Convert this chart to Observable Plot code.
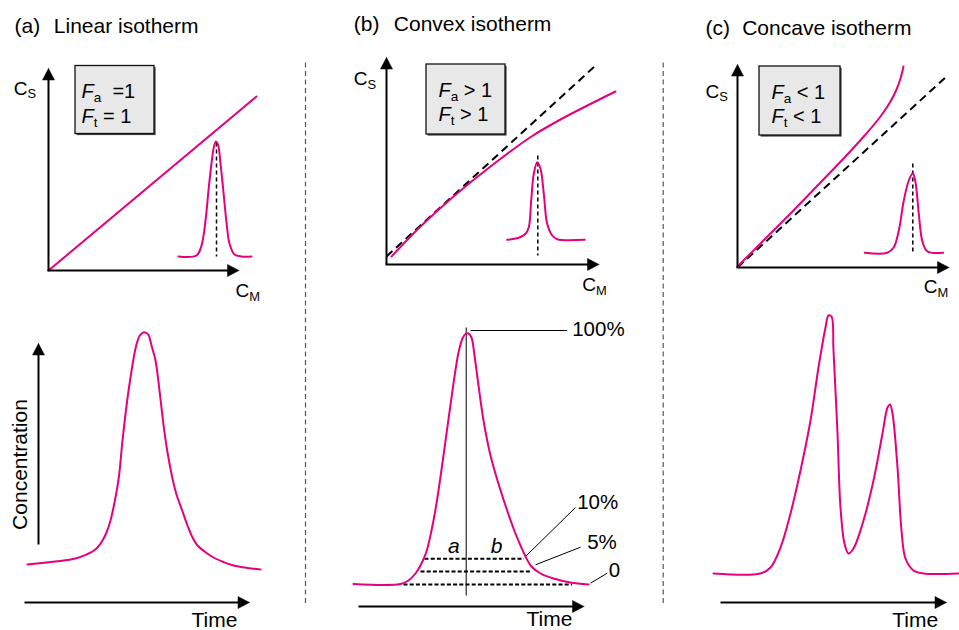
<!DOCTYPE html>
<html><head><meta charset="utf-8">
<script src="https://cdn.jsdelivr.net/npm/d3@7"></script>
<script src="https://cdn.jsdelivr.net/npm/@observablehq/plot@0.6"></script>
<style>
html,body{margin:0;padding:0;background:#fff;}
#chart{width:959px;height:630px;}
</style></head><body><div id="chart"></div>
<script>
// ================= DATA =================
const panelTags  = ["(a)", "(b)", "(c)"];
const panelNames = ["Linear isotherm", "Convex isotherm", "Concave isotherm"];
const faText = ["*F*_{a}  =1", "*F*_{a} > 1", "*F*_{a} < 1"];
const ftText = ["*F*_{t} = 1", "*F*_{t} > 1", "*F*_{t} < 1"];
const csText = "C_{S}";
const cmText = "C_{M}";
const timeText = "Time";
const concText = "Concentration";
const levelText = ["100%", "10%", "5%", "0"];
const widthText = ["*a*", "*b*"];

// isotherm curves  [C_M, C_S] (figure units)
const isoLinear  = [[48, 270], [256, 96]];
const isoConvex  = [[391, 256], [420, 226], [453, 196], [490, 166], [531, 136], [560, 119], [615, 91]];
const isoConcave = [[737, 266], [760, 243], [790, 213], [820, 182], [845, 156], [865, 134], [880, 116],
                    [890, 101], [896, 89], [900, 78], [903, 66]];
const isoDiagB = [[386, 256], [594, 66]];
const isoDiagC = [[737, 267], [946, 76]];

// small inset peaks
const insetA = [[178, 256], [196, 255], [201, 245], [205, 220], [208, 190], [211, 163], [213.5, 146], [215.5, 141],
                [217.5, 144], [220, 163], [223, 192], [226, 222], [229, 243], [234, 254], [241, 256], [251, 256]];
const insetB = [[506.7, 239.3], [518.3, 237.3], [525, 233.3], [528.3, 226.7], [530.7, 200], [533.3, 173.3],
                [536.7, 161.7], [540, 168.3], [543.3, 193.3], [546.7, 223.3], [551.7, 235], [556.7, 238.7], [584.3, 239.3]];
const insetC = [[864.3, 252.3], [886.7, 252.3], [893.3, 246.7], [898.3, 230], [903.3, 200], [908.3, 180],
                [912.3, 172.7], [915, 181.7], [918.3, 213.3], [921.7, 240], [926.7, 250.7], [942.7, 252.3]];

// elution profiles [time, concentration]
const peakA = [[27, 564], [55, 561], [75, 558], [86, 554], [92, 551], [97, 547], [102, 540], [106, 532], [110, 520],
               [114, 502], [118.3, 477], [122, 440], [126.7, 400], [130, 377], [133.3, 356.7], [136, 344], [139.3, 335],
               [143.3, 331.7], [146, 332.5], [148.3, 335], [151, 345], [155, 360], [159, 390], [163.3, 426.7], [167, 452],
               [171.7, 476.7], [176, 494], [181.7, 510], [187, 525], [192, 537], [197, 545], [204, 551], [213, 557],
               [223, 561.5], [233, 565], [247, 567.5], [260, 569]];
const peakB = [[353, 583.5], [400, 583.5], [408, 580], [415, 573], [421, 563], [426, 551], [431, 530], [436, 503], [443, 455],
               [452, 390], [458, 352], [462, 338], [465, 333.5], [468, 333], [471, 337], [474, 355], [478, 385], [483, 420],
               [490, 455], [497, 480], [505, 505], [513, 528], [520, 545], [525, 556], [531, 566], [540, 573], [553, 578],
               [570, 582], [588, 584]];
const peakC = [[713, 573], [760, 573], [770, 567], [780, 547], [790, 513], [800, 470], [810, 420], [818, 367], [825, 327],
               [828, 315], [831, 316], [833, 350], [837, 433], [840, 507], [844, 543], [848, 553], [853, 548], [863, 520],
               [873, 480], [882, 433], [887, 407], [889.5, 404], [892, 413], [897, 467], [901, 530], [905, 558], [913, 570],
               [923, 573], [958, 573]];

// peak-asymmetry levels in (b): 10 %, 5 %, 0
const levelY  = [558.3, 571, 584];
const levelX1 = [424, 420, 403];
const levelX2 = [523.5, 531.5, 571.5];

// ================= LAYOUT =================
const FONT = "'Liberation Sans', Arial, Helvetica, sans-serif";
const PINK = "#e5007e";
const layout = {
  tagPos:  [[14, 32], [353.3, 30.5], [705, 34]],
  namePos: [[53.3, 32], [393.3, 30.5], [741.7, 34]],
  boxes:   [[75, 65.5, 154, 133.5], [426, 64, 505, 134], [759, 66, 840, 135]],
  boxTextX: [81, 438, 771],
  axes:    [{ox: 48, oy: 270, xt: 238.5, yt: 68}, {ox: 386, oy: 264, xt: 598.5, yt: 57}, {ox: 737, oy: 267, xt: 948.5, yt: 64}],
  csPos:   [[13.3, 94], [353.3, 84.5], [705, 97]],
  cmPos:   [[235, 296.5], [581.7, 290.5], [923.3, 292.5]],
  timeArrows: [[24, 602, 249, 602], [358, 606, 583.5, 606], [720, 602, 946, 602]],
  concArrow: [38, 544, 38, 343],
  timePos: [[191, 626], [526, 625.5], [891.7, 626]],
  concPos: [26, 464],
  insetDash: [[216, 142, 216, 256], [537.3, 155, 537.3, 255], [912.3, 163, 912.3, 252]],
  separators: [[305, 62, 305, 603], [662.7, 62, 662.7, 603]],
  peakLine: [465.7, 327, 465.7, 595],
  leaders: [[470, 330, 566.7, 330], [525, 556, 575, 507], [535, 564.3, 580, 546.7], [590, 582.7, 606.7, 572.7]],
  levelPos: [[571.7, 335], [576.7, 508], [586.7, 548.3], [608.3, 576.7]],
  widthPos: [[453.3, 552], [496, 552]]
};

// ================= BUILD =================
const seg = arr => arr.map(([x1, y1, x2, y2]) => ({x1, y1, x2, y2}));

const arrows = [];
layout.axes.forEach(a => {
  arrows.push({x1: a.ox, y1: a.oy, x2: a.ox, y2: a.yt});
  arrows.push({x1: a.ox - 1, y1: a.oy, x2: a.xt, y2: a.oy});
});
layout.timeArrows.forEach(([x1, y1, x2, y2]) => arrows.push({x1, y1, x2, y2}));
{ const [x1, y1, x2, y2] = layout.concArrow; arrows.push({x1, y1, x2, y2}); }

const HL = 11.5, HW = 12;
const shafts = arrows.map(a => {
  const dx = a.x2 - a.x1, dy = a.y2 - a.y1, n = Math.hypot(dx, dy);
  return {x1: a.x1, y1: a.y1, x2: a.x2 - dx / n * HL * 0.7, y2: a.y2 - dy / n * HL * 0.7};
});
const heads = arrows.flatMap((a, i) => {
  const dx = a.x2 - a.x1, dy = a.y2 - a.y1, n = Math.hypot(dx, dy), ux = dx / n, uy = dy / n;
  const bx = a.x2 - ux * HL, by = a.y2 - uy * HL, nx = -uy, ny = ux;
  return [[a.x2, a.y2], [bx + nx * HW / 2, by + ny * HW / 2], [bx - nx * HW / 2, by - ny * HW / 2], [a.x2, a.y2]]
    .map(([x, y]) => ({x, y, id: i}));
});

const curves = [isoLinear, isoConvex, isoConcave, insetA, insetB, insetC, peakA, peakB, peakC]
  .flatMap((c, i) => c.map(([x, y]) => ({x, y, id: i})));
const diags = [isoDiagB, isoDiagC].map(([[x1, y1], [x2, y2]]) => ({x1, y1, x2, y2}));
const levels = levelY.map((y, i) => ({x1: levelX1[i], x2: levelX2[i], y1: y, y2: y}));

const boxes = layout.boxes.map(([x1, y1, x2, y2]) => ({x1, y1, x2, y2}));
const shadows = boxes.map(b => ({x1: b.x1 + 1.6, y1: b.y1 + 1.6, x2: b.x2 + 1.6, y2: b.y2 + 1.6}));

const texts21 = [];
panelTags.forEach((t, i) => texts21.push({t, x: layout.tagPos[i][0], y: layout.tagPos[i][1]}));
panelNames.forEach((t, i) => texts21.push({t, x: layout.namePos[i][0], y: layout.namePos[i][1]}));
layout.timePos.forEach(([x, y]) => texts21.push({t: timeText, x, y}));

const boxTexts = [];
faText.forEach((t, i) => boxTexts.push({t, x: layout.boxTextX[i], y: layout.boxes[i][1] + 32}));
ftText.forEach((t, i) => boxTexts.push({t, x: layout.boxTextX[i], y: layout.boxes[i][1] + 56.5}));

const cLabels = [];
layout.csPos.forEach(([x, y]) => cLabels.push({t: csText, x, y}));
layout.cmPos.forEach(([x, y]) => cLabels.push({t: cmText, x, y}));

const levelLabels = levelText.map((t, i) => ({t, x: layout.levelPos[i][0], y: layout.levelPos[i][1]}));
const widthLabels = widthText.map((t, i) => ({t, x: layout.widthPos[i][0], y: layout.widthPos[i][1]}));

const chart = Plot.plot({
  width: 959, height: 630, margin: 0,
  x: {domain: [0, 959], axis: null},
  y: {domain: [0, 630], reverse: true, axis: null},
  style: {background: "white", fontFamily: FONT, color: "black", overflow: "visible"},
  marks: [
    Plot.link(seg(layout.separators), {x1: "x1", y1: "y1", x2: "x2", y2: "y2", stroke: "#555", strokeWidth: 1.2, strokeDasharray: "5,3.5"}),
    Plot.rect(shadows, {x1: "x1", y1: "y1", x2: "x2", y2: "y2", fill: "#444"}),
    Plot.rect(boxes, {x1: "x1", y1: "y1", x2: "x2", y2: "y2", fill: "#e8e8e8", stroke: "#111", strokeWidth: 1.3}),
    Plot.link(diags, {x1: "x1", y1: "y1", x2: "x2", y2: "y2", stroke: "black", strokeWidth: 2, strokeDasharray: "8,5"}),
    Plot.link(seg(layout.insetDash), {x1: "x1", y1: "y1", x2: "x2", y2: "y2", stroke: "black", strokeWidth: 1.5, strokeDasharray: "4,3"}),
    Plot.link(levels, {x1: "x1", y1: "y1", x2: "x2", y2: "y2", stroke: "black", strokeWidth: 2, strokeDasharray: "4,2.2"}),
    Plot.link(seg([layout.peakLine]), {x1: "x1", y1: "y1", x2: "x2", y2: "y2", stroke: "black", strokeWidth: 1}),
    Plot.link(seg(layout.leaders), {x1: "x1", y1: "y1", x2: "x2", y2: "y2", stroke: "black", strokeWidth: 1}),
    Plot.line(curves, {x: "x", y: "y", z: "id", stroke: PINK, strokeWidth: 2, curve: "catmull-rom"}),
    Plot.link(shafts, {x1: "x1", y1: "y1", x2: "x2", y2: "y2", stroke: "black", strokeWidth: 2}),
    Plot.line(heads, {x: "x", y: "y", z: "id", fill: "black", stroke: "black", strokeWidth: 0.5}),
    Plot.text(texts21, {x: "x", y: "y", text: "t", fontSize: 21, textAnchor: "start", lineAnchor: "bottom", fill: "black"}),
    Plot.text(boxTexts, {x: "x", y: "y", text: "t", fontSize: 20, textAnchor: "start", lineAnchor: "bottom", fill: "black"}),
    Plot.text(cLabels, {x: "x", y: "y", text: "t", fontSize: 19, textAnchor: "start", lineAnchor: "bottom", fill: "black"}),
    Plot.text(levelLabels, {x: "x", y: "y", text: "t", fontSize: 20.5, textAnchor: "start", lineAnchor: "bottom", fill: "black"}),
    Plot.text(widthLabels, {x: "x", y: "y", text: "t", fontSize: 21, textAnchor: "middle", lineAnchor: "bottom", fill: "black"}),
    Plot.text([{t: concText, x: layout.concPos[0], y: layout.concPos[1]}], {x: "x", y: "y", text: "t", fontSize: 21, rotate: -90, textAnchor: "middle", lineAnchor: "bottom", fill: "black"})
  ]
});

// rich text: *italic*, _{subscript}
function richify(svg) {
  const NS = "http://www.w3.org/2000/svg";
  svg.querySelectorAll("text").forEach(el => {
    const s = el.textContent;
    if (!/[*_]/.test(s)) return;
    while (el.firstChild) el.removeChild(el.firstChild);
    el.style.whiteSpace = "pre";
    const re = /\*([^*]+)\*|_\{([^}]+)\}|([^*_]+)/g;
    let m, up = false;
    while ((m = re.exec(s))) {
      const t = document.createElementNS(NS, "tspan");
      if (m[1] != null) { t.textContent = m[1]; t.setAttribute("font-style", "italic"); }
      else if (m[2] != null) { t.textContent = m[2]; t.style.fontSize = "68%"; t.setAttribute("dy", "0.3em"); }
      else t.textContent = m[3];
      if (up && m[2] == null) { t.setAttribute("dy", "-0.204em"); up = false; }
      if (m[2] != null) up = true;
      el.appendChild(t);
    }
  });
}
richify(chart);
document.getElementById("chart").appendChild(chart);
</script>
</body></html>
